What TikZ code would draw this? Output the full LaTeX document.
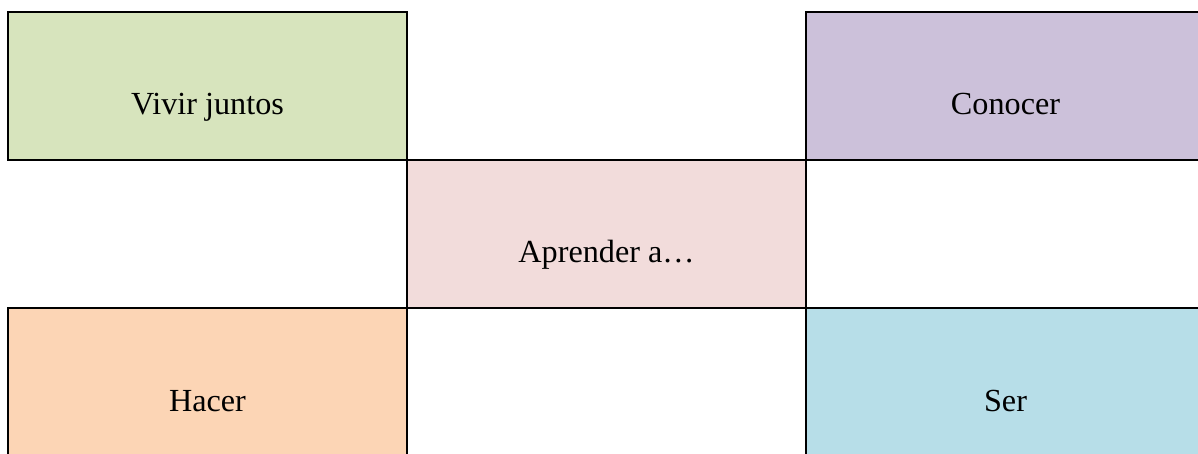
\documentclass[tikz,border=0pt]{standalone}
\usepackage{fontspec}
\setmainfont{Liberation Serif}
\usepackage{xcolor}
\usepackage{tikz}
\usetikzlibrary{positioning}
\definecolor{vivirgreen}{HTML}{D7E4BD}
\definecolor{conocerlila}{HTML}{CCC1DA}
\definecolor{aprenderrose}{HTML}{F2DCDB}
\definecolor{haceramber}{HTML}{FCD5B5}
\definecolor{serblue}{HTML}{B7DEE8}

\begin{document}
\begin{tikzpicture}[
  x=0.5pt, y=-0.5pt,
  cell/.style={draw=black, line width=1.25pt, outer sep=0pt, inner sep=0pt,
    minimum width=199.5pt, minimum height=74pt},
  lbl/.style={anchor=base, yshift=22.5pt, inner sep=0pt,
    font=\fontsize{16.1}{19}\selectfont},
]
  \useasboundingbox (0,0) rectangle (1198,454);
  \clip (0,0) rectangle (1198,454);

  % ── Centre ───────────────────────────────────────────────────────────
  \node[cell, fill=aprenderrose, label={[lbl]south:Aprender a…}] (aprender) at (606.5,234) {};

  % ── Corners ──────────────────────────────────────────────────────────
  \node[cell, fill=vivirgreen, label={[lbl]south:Vivir juntos}] (vivir) [above left=0pt and 0pt of aprender] {};
  \node[cell, fill=conocerlila, label={[lbl]south:Conocer}] (conocer) [above right=0pt and 0pt of aprender] {};
  \node[cell, fill=haceramber, label={[lbl]south:Hacer}] (hacer) [below left=0pt and 0pt of aprender] {};
  \node[cell, fill=serblue, label={[lbl]south:Ser}] (ser) [below right=0pt and 0pt of aprender] {};
\end{tikzpicture}
\end{document}
